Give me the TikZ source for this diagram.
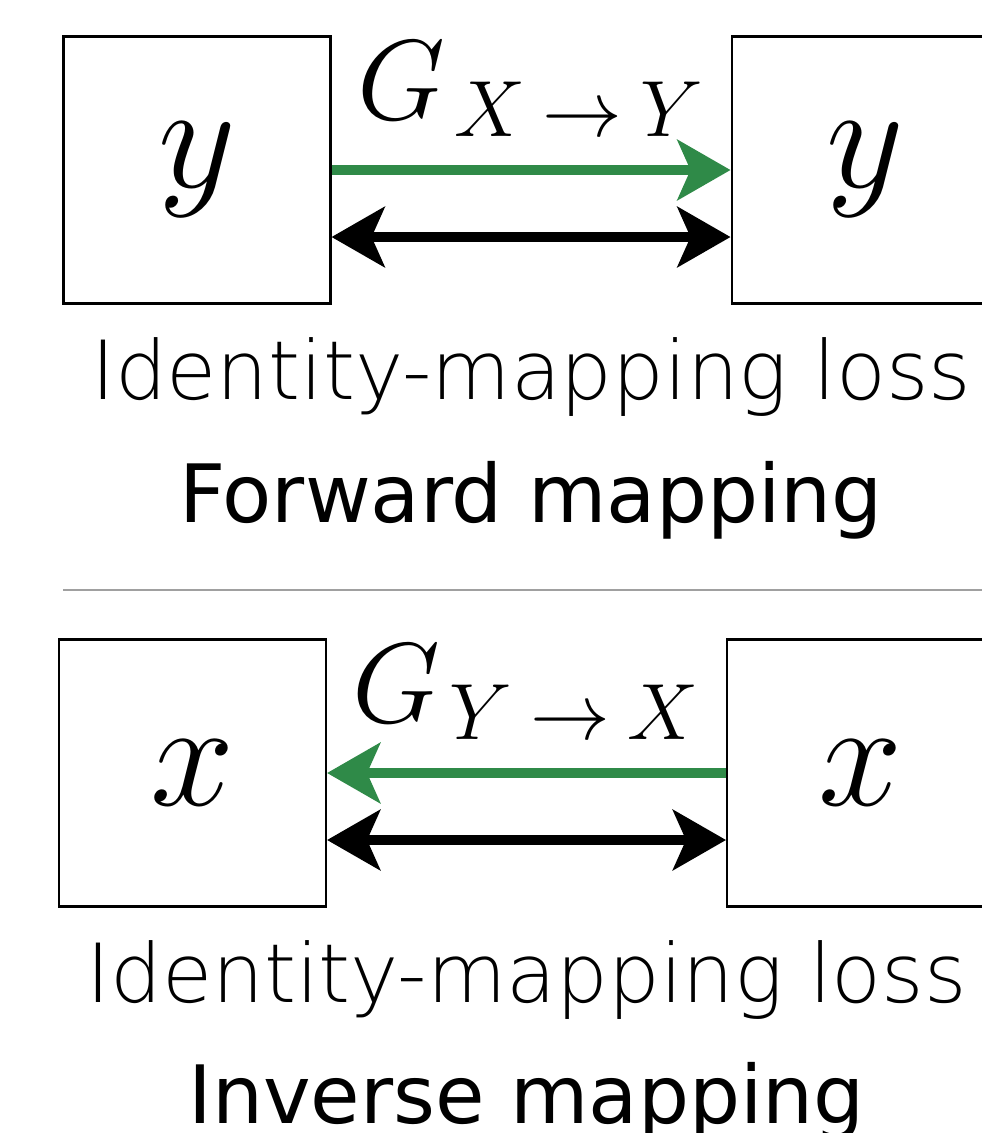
\RequirePackage{fix-cm}
\documentclass[tikz,border=0pt]{standalone}
\usepackage{fontspec}
\newfontfamily\thinsans{DejaVu Sans ExtraLight}
\newfontfamily\plainsans{DejaVu Sans}
\usepackage{tikz}
\usetikzlibrary{arrows.meta, positioning}
\definecolor{gengreen}{RGB}{47,138,72}
\definecolor{sepgray}{RGB}{160,160,160}

\begin{document}
\begin{tikzpicture}[>=Stealth,
        varbox/.style={rectangle, draw, line width=0.6pt, minimum size=2.67cm, inner sep=0pt, font=\fontsize{43}{50}\selectfont},
        gen/.style={->, draw=gengreen, line width=3.1pt, arrows={-Stealth[length=0.53cm, width=0.6cm, inset=0.13cm]}},
        ident/.style={line width=2.8pt, arrows={Stealth[length=0.53cm, width=0.6cm, inset=0.13cm]-Stealth[length=0.53cm, width=0.6cm, inset=0.13cm]}},
        genlabel/.style={above=0.28cm, inner sep=0pt, font=\fontsize{32.4}{38}\selectfont},
        loss/.style={inner sep=0pt, font=\thinsans\fontsize{23.2}{28}\selectfont},
        heading/.style={inner sep=0pt, font=\plainsans\fontsize{22.9}{28}\selectfont}]
        \useasboundingbox (0,0) rectangle (9.82,-11.33);

        % forward mapping
        \node (ysrc) [varbox] at (1.97,-1.70) {$y$};
        \node (ydst) [varbox, right=3.99cm of ysrc] {$y$};
        \draw[gen] (ysrc) -- node (gxy) [genlabel] {$G_{\mkern2mu X\mkern4mu\rightarrow\mkern4mu Y}$} (ydst);
        \draw[ident] ([yshift=-0.67cm]ysrc.east) -- coordinate (fmid) ([yshift=-0.67cm]ydst.west);
        \node (lossf) [loss, below=1.62cm of fmid, anchor=base] {Identity-mapping loss};
        \node (fwd) [heading, below=1.23cm of lossf.base, anchor=base] {Forward mapping};

        \draw[sepgray, line width=0.6pt] (0.63,-5.90) -- (9.82,-5.90);

        % inverse mapping
        \node (xdst) [varbox] at (1.925,-7.73) {$x$};
        \node (xsrc) [varbox, right=3.99cm of xdst] {$x$};
        \draw[gen] (xsrc) -- node (gyx) [genlabel] {$G_{\mkern2mu Y\mkern4mu\rightarrow\mkern4mu X}$} (xdst);
        \draw[ident] ([yshift=-0.67cm]xdst.east) -- coordinate (imid) ([yshift=-0.67cm]xsrc.west);
        \node (lossi) [loss, below=1.62cm of imid, anchor=base] {Identity-mapping loss};
        \node (inv) [heading, below=1.21cm of lossi.base, anchor=base] {Inverse mapping};
    \end{tikzpicture}
\end{document}
